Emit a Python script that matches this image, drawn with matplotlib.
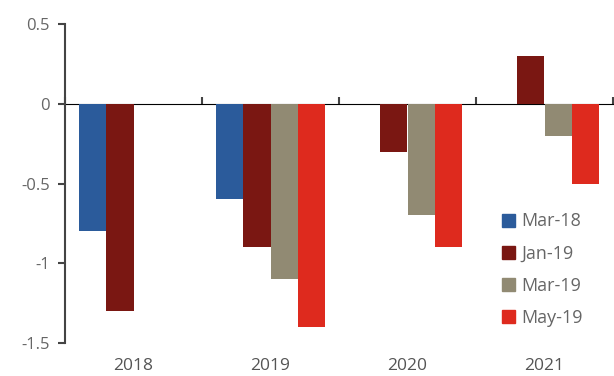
import numpy as np
import matplotlib.pyplot as plt
from matplotlib.patches import Patch

years = ['2018', '2019', '2020', '2021']
series = ['Mar-18', 'Jan-19', 'Mar-19', 'May-19']
mar18 = [-0.8, -0.6, np.nan, np.nan]
jan19 = [-1.3, -0.9, -0.3, 0.3]
mar19 = [np.nan, -1.1, -0.7, -0.2]
may19 = [np.nan, -1.4, -0.9, -0.5]
colors = ['#2B5B9B', '#7A1712', '#918A73', '#DE2A1E']

plt.rcParams['font.family'] = ['Open Sans', 'DejaVu Sans']

fig = plt.figure(figsize=(6.14, 3.76), dpi=100)
ax = fig.add_axes([65 / 614, 1 - 343 / 376, 548 / 614, 319 / 376])

x = np.arange(len(years))
w = 0.2
for i, (vals, c) in enumerate(zip([mar18, jan19, mar19, may19], colors)):
    ax.bar(x + (i - 1.5) * w, vals, width=w, color=c, linewidth=0)

ax.set_xlim(-0.5, 3.5)
ax.set_ylim(-1.5, 0.5)
ax.set_yticks([0.5, 0, -0.5, -1, -1.5])
ax.set_yticklabels(['0.5', '0', '-0.5', '-1', '-1.5'])
ax.set_xticks(x)
ax.set_xticklabels(years)
ax.tick_params(axis='x', length=0, pad=11, labelsize=12.5, labelcolor='#555555')
ax.tick_params(axis='y', length=5, width=1.5, color='#444444', labelsize=12,
               labelcolor='#666666', pad=6)

for s in ['top', 'right', 'bottom']:
    ax.spines[s].set_visible(False)
ax.spines['left'].set_color('#444444')
ax.spines['left'].set_linewidth(1.5)

# zero line with category boundary ticks
zero = ax.secondary_xaxis(0.75)
zero.set_xticks(np.arange(-0.5, 4.0, 1.0))
zero.set_xticklabels([])
zero.tick_params(axis='x', direction='out', length=5, width=1.5, color='#444444')
zero.spines['bottom'].set_color('#444444')
zero.spines['bottom'].set_linewidth(2)

handles = [Patch(color=c) for c in colors]
ax.legend(handles, series, loc='lower right', bbox_to_anchor=(0.975, 0.0),
          frameon=False, fontsize=13, labelcolor='#666666', handlelength=0.75,
          handleheight=0.75, handletextpad=0.35, labelspacing=0.78)

fig.savefig('out.png', dpi=100)
